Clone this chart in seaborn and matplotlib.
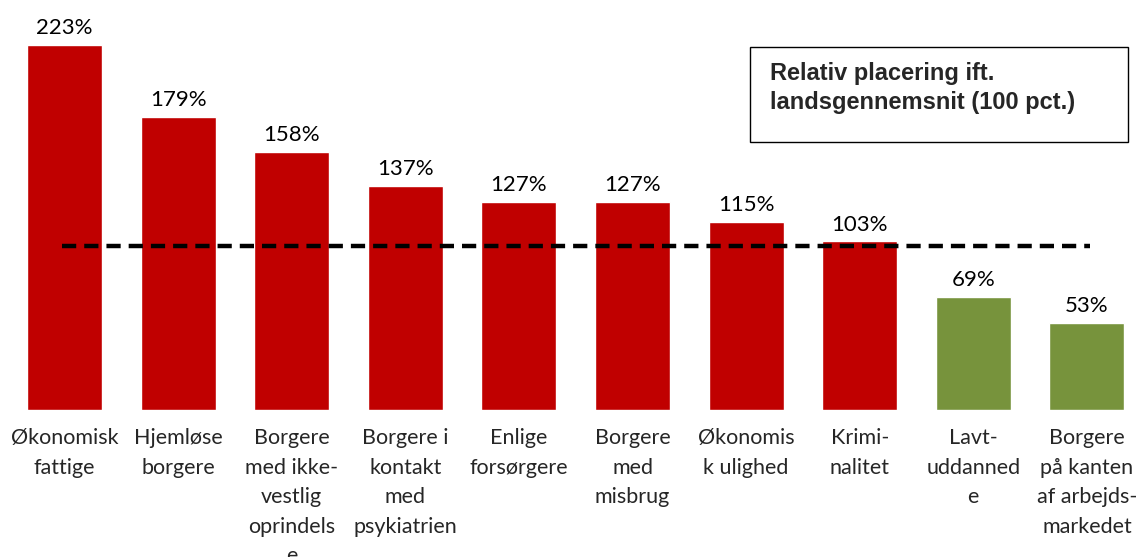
import numpy as np
import pandas as pd
import matplotlib.pyplot as plt
from matplotlib.patches import Rectangle
import seaborn as sns

# Data
categories = ["Økonomisk\nfattige", "Hjemløse\nborgere", "Borgere\nmed ikke-\nvestlig\noprindels\ne",
              "Borgere i\nkontakt\nmed\npsykiatrien", "Enlige\nforsørgere", "Borgere\nmed\nmisbrug",
              "Økonomis\nk ulighed", "Krimi-\nnalitet", "Lavt-\nuddanned\ne",
              "Borgere\npå kanten\naf arbejds-\nmarkedet"]
values = [223, 179, 158, 137, 127, 127, 115, 103, 69, 53]
bar_colors = ["#C00000"] * 8 + ["#77933C"] * 2
reference = 100

df = pd.DataFrame({"kategori": categories, "pct": values})

sns.set_style("white")
plt.rcParams["font.family"] = ["Lato", "DejaVu Sans"]

fig = plt.figure(figsize=(11.44, 5.57), dpi=100)
ax = fig.add_axes([7.7 / 1144, 147 / 557, 1136 / 1144, 409 / 557])

sns.barplot(data=df, x="kategori", y="pct", hue="kategori", palette=bar_colors,
            legend=False, width=0.66, saturation=1, ax=ax)

for c in ax.containers:
    ax.bar_label(c, fmt="%d%%", padding=5, fontsize=16, color="black")

# landsgennemsnit
ax.plot([-0.02, 9.03], [reference, reference], color="black", lw=3.2,
        linestyle=(0, (3.2, 1.8)), zorder=5)

ax.set_xlim(-0.5, 9.5)
ax.set_ylim(0, 250)
ax.set_xlabel("")
ax.set_ylabel("")
ax.set_yticks([])
ax.tick_params(axis="x", length=0, pad=13)
ax.set_xticks(range(len(categories)))
ax.set_xticklabels(categories, fontsize=15.5, linespacing=1.6, va="top")
sns.despine(ax=ax, left=True, bottom=True)

# tekstboks
fig.patches.append(Rectangle((750 / 1144, 1 - 142 / 557), 378 / 1144, 95 / 557,
                             transform=fig.transFigure, fill=False, ec="black", lw=1))
fig.text(770 / 1144, 1 - 88 / 557, "Relativ placering ift.\nlandsgennemsnit (100 pct.)",
         family=["Liberation Sans", "DejaVu Sans"], fontweight="bold", fontsize=17,
         va="center", ha="left", linespacing=1.3)

fig.savefig("out.png", dpi=100)
